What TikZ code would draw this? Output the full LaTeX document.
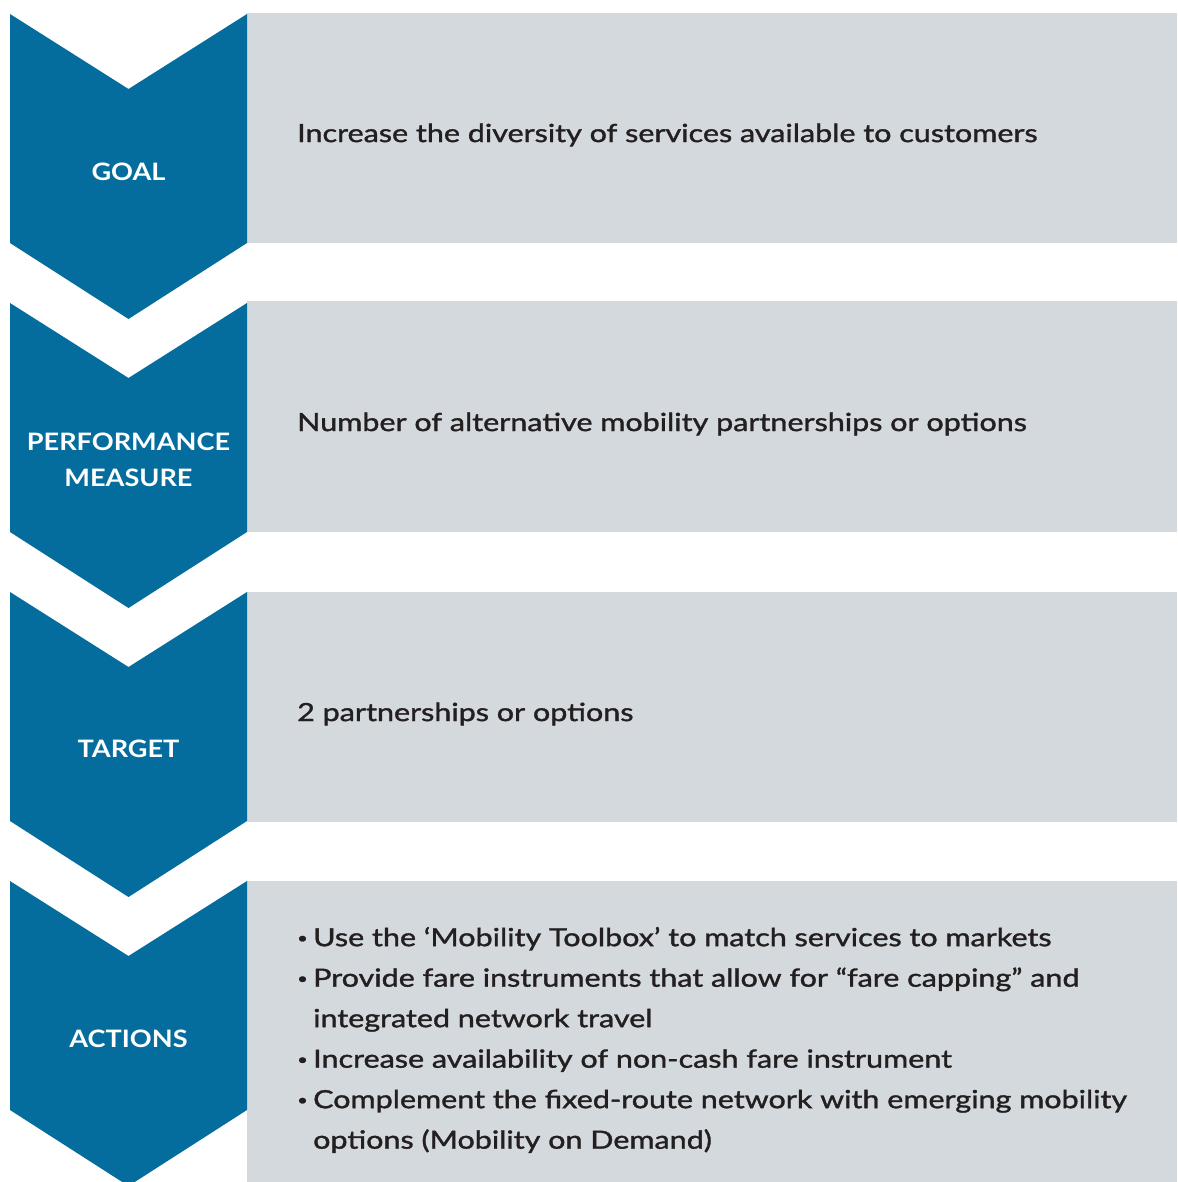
\documentclass[tikz,border=0pt]{standalone}
\usepackage{fontspec}
\setmainfont{Lato}
\newfontfamily\bodyfont[FakeBold=1.4,FakeStretch=1.22]{Lato}
\newfontfamily\labelfont[FakeStretch=1.13]{Lato Bold}
\definecolor{chevblue}{HTML}{046D9E}
\definecolor{panelgray}{HTML}{D4D9DD}
\definecolor{bodytext}{HTML}{231F20}
\tikzset{
  chev/.style={fill=chevblue, draw=none},
  panel/.style={fill=panelgray, draw=none},
  lbl/.style={text=white, font=\labelfont\fontsize{24}{36}\selectfont, align=center, inner sep=0pt},
  body/.style={text=bodytext, font=\bodyfont\fontsize{25}{40.5}\selectfont, anchor=west, inner sep=0pt, align=left},
}
\newcommand{\itm}{\makebox[16pt][l]{\raisebox{0.12em}{\scalebox{0.6}{\textbullet}}}}
\newcommand{\cnt}{\hspace*{16pt}}
\begin{document}
\begin{tikzpicture}[x=1pt,y=-1pt]
\useasboundingbox (0,0) rectangle (1177,1182);
% panels
\fill[panel] (247,13) rectangle (1177,243);
\fill[panel] (247,301) rectangle (1177,532);
\fill[panel] (247,592) rectangle (1177,822);
\fill[panel] (247,881) rectangle (1177,1182);
% chevrons
\foreach \T in {14,303,592,881}{
  \fill[chev] (10,\T) -- (128.5,\T+75) -- (247,\T) -- (247,\T+229) -- (128.5,\T+305) -- (10,\T+229) -- cycle;
}
% labels
\node[lbl] (goal) at (128.5,172) {GOAL};
\node[lbl] (pm) at (128.5,460) {PERFORMANCE\\MEASURE};
\node[lbl] (target) at (128.5,749) {TARGET};
\node[lbl] (actions) at (128.5,1039) {ACTIONS};
% body text
\node[body] (goaltxt) at (297,135) {Increase the diversity of services available to customers};
\node[body] (pmtxt) at (297,424) {Number of alternative mobility partnerships or options};
\node[body] (targettxt) at (297,714) {2 partnerships or options};
\node[body] (actionstxt) at (297,1040) {%
\itm Use the ‘Mobility Toolbox’ to match services to markets\\
\itm Provide fare instruments that allow for “fare capping” and\\
\cnt integrated network travel\\
\itm Increase availability of non-cash fare instrument\\
\itm Complement the fixed-route network with emerging mobility\\
\cnt options (Mobility on Demand)};
\end{tikzpicture}
\end{document}
